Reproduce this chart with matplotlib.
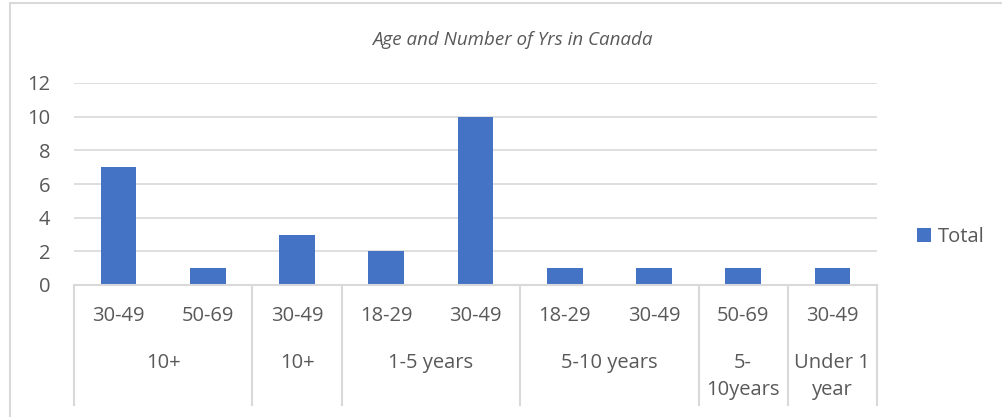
import matplotlib
matplotlib.use("Agg")
import matplotlib.pyplot as plt
from matplotlib import transforms
from matplotlib.patches import Rectangle

# Data
age_labels = ["30-49", "50-69", "30-49", "18-29", "30-49", "18-29", "30-49", "50-69", "30-49"]
group_labels = ["10+", "10+", "1-5 years", "5-10 years", "5-\n10years", "Under 1\nyear"]
group_sizes = [2, 1, 2, 2, 1, 1]
totals = [7, 1, 3, 2, 10, 1, 1, 1, 1]
series_name = "Total"
title = "Age and Number of Yrs in Canada"

BAR = "#4472C4"
TXT = "#595959"
GRID = "#D9D9D9"
FONT = ["Open Sans", "DejaVu Sans"]
FS = 14.5

W, H = 1002, 417
fig = plt.figure(figsize=(W / 100, H / 100), dpi=100)
plt.rcParams["font.family"] = FONT

ax = fig.add_axes([74 / W, 1 - 285 / H, (877 - 74) / W, (285 - 83) / H])
x = list(range(len(totals)))
ax.bar(x, totals, width=0.4, color=BAR, zorder=3, label=series_name)
ax.set_xlim(-0.5, len(totals) - 0.5)
ax.set_ylim(0, 12)
ax.set_yticks(range(0, 13, 2))
ax.yaxis.grid(True, color=GRID, linewidth=1.2, zorder=0)
ax.tick_params(axis="y", length=0, pad=17, labelsize=FS, labelcolor=TXT)
ax.set_xticks([])
for s in ax.spines.values():
    s.set_visible(False)

# Category axis (multi-level)
tr = transforms.blended_transform_factory(ax.transData, fig.transFigure)
y_axis = 1 - 285 / H
y_bottom = 1 - 405 / H
ax.plot([-0.5, len(totals) - 0.5], [y_axis, y_axis], transform=tr, color=GRID,
        linewidth=1.5, clip_on=False, zorder=4)
for i, lab in enumerate(age_labels):
    ax.text(i, 1 - 316 / H, lab, transform=tr, ha="center", va="center",
            fontsize=FS, color=TXT)
start = 0
bounds = [-0.5]
for g, n in zip(group_labels, group_sizes):
    center = start + (n - 1) / 2
    ax.text(center, 1 - 353 / H, g, transform=tr, ha="center", va="top",
            fontsize=FS, color=TXT, linespacing=1.5)
    start += n
    bounds.append(start - 0.5)
for b in bounds:
    ax.plot([b, b], [y_axis, y_bottom], transform=tr, color=GRID, linewidth=1.5,
            clip_on=False, zorder=4)

# Title
fig.text(512 / W, 1 - 40 / H, title, ha="center", va="center", fontsize=13.5,
         style="italic", color=TXT)

# Legend
leg = fig.legend(loc="center left", bbox_to_anchor=(899 / W, 1 - 237 / H), frameon=False,
                 fontsize=FS, handlelength=0.7, handleheight=0.7, handletextpad=0.35,
                 labelcolor=TXT)

# Chart border
fig.patches.append(Rectangle((10 / W, -0.1), 1.2, 1 - 3 / H + 0.1, transform=fig.transFigure,
                             fill=False, edgecolor=GRID, linewidth=1.5))

fig.savefig("out.png", dpi=100)
